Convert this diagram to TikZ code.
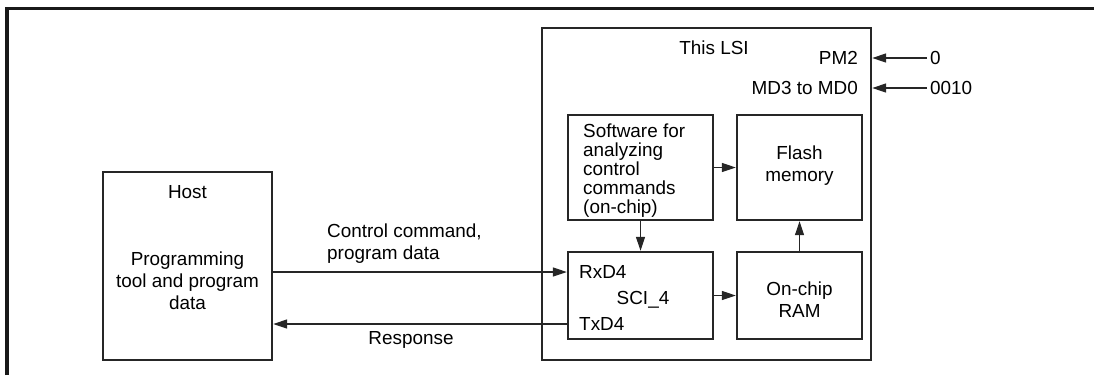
\documentclass[tikz,border=0pt]{standalone}
\usepackage{fontspec}
\setmainfont{Liberation Sans}
\usetikzlibrary{arrows.meta, positioning}

\tikzset{
    blk/.style={draw=black!85, line width=2.4pt, inner sep=0pt},
    sig/.style={draw=black!85, line width=1.2pt, -{Triangle[length=14pt, width=9pt]}},
    txt/.style={inner sep=0pt, align=center}
}

\begin{document}
\begin{tikzpicture}[x=1pt, y=-1pt, font=\fontsize{18.9}{22}\selectfont]
    \useasboundingbox (0,0) rectangle (1094,375);

    % Frame
    \draw[black!90, line width=3.5pt] (7,375) -- (7,8.5) -- (1094,8.5);

    % Host
    \node[blk, minimum width=169pt, minimum height=188pt] (host) at (187.5,266) {};
    \node[txt] (hostname) at (187.5,192) {Host};
    \node[txt] (hosttool) at (187.5,281) {Programming\\tool and program\\data};

    % This LSI
    \node[blk, minimum width=329pt, minimum height=332pt] (lsi) at (706.5,194) {};
    \node[txt] (lsiname) at (714,48) {This LSI};
    \node[txt, anchor=east] (pm) at (858,58) {PM2};
    \node[txt, anchor=east] (md) at (858,88) {MD3 to MD0};
    \node[txt, anchor=west, inner xsep=3pt] (pmval) at (927,58) {0};
    \node[txt, anchor=west, inner xsep=3pt] (mdval) at (927,88) {0010};

    % Inner blocks
    \node[blk, minimum width=145pt, minimum height=105pt] (soft) at (640.5,167.5) {};
    \node[txt, anchor=west, align=left, font=\fontsize{18.9}{19}\selectfont] (softtxt) at (583,171)
        {Software for\\analyzing\\control\\commands\\(on-chip)};
    \node[blk, minimum width=125pt, minimum height=105pt] (flash) at (799.5,167.5) {};
    \node[txt] (flashtxt) at (799.5,166) {Flash\\memory};
    \node[blk, minimum width=145pt, minimum height=87pt] (sci) at (640.5,295.5) {};
    \node[txt, anchor=west] (rxd) at (579,272) {RxD4};
    \node[txt] (sciname) at (643,300) {SCI\_4};
    \node[txt, anchor=west] (txd) at (579,324) {TxD4};
    \node[blk, minimum width=125pt, minimum height=87pt] (ram) at (799.5,295.5) {};
    \node[txt] (ramtxt) at (799.5,300) {On-chip\\RAM};

    % Labels
    \node[txt, anchor=west, align=left] (cmdlbl) at (327,244) {Control command,\\program data};
    \node[txt] (resplbl) at (411,340) {Response};

    % Connectors
    \draw[sig] (pmval.west) -- (lsi.east |- pmval.west);
    \draw[sig] (mdval.west) -- (lsi.east |- mdval.west);
    \draw[sig] (soft.east) -- (flash.west);
    \draw[sig] (soft.south) -- (sci.north);
    \draw[sig] (ram.north) -- (flash.south);
    \draw[sig] (sci.east) -- (ram.west);
    \draw[sig] (host.east |- rxd.west) -- (sci.west |- rxd.west);
    \draw[sig] (sci.west |- txd.west) -- (host.east |- txd.west);
\end{tikzpicture}
\end{document}
